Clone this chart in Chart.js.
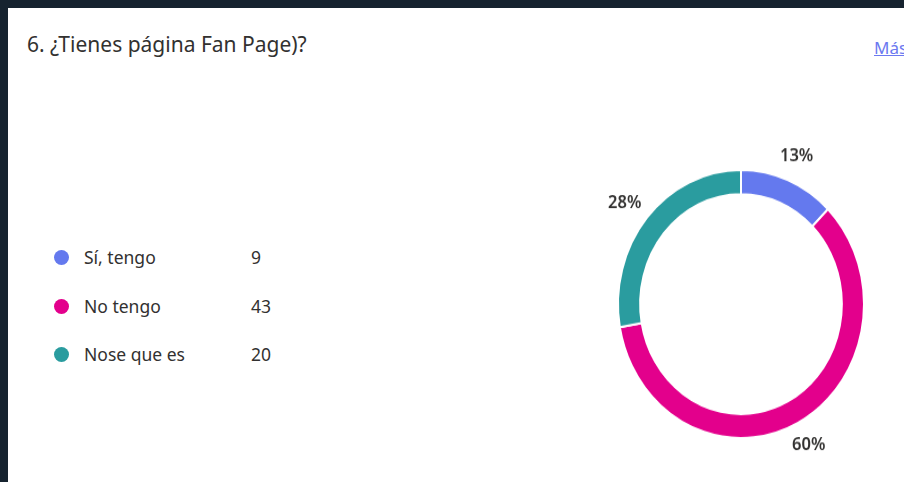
<!DOCTYPE html>
<html>
<head>
<meta charset="utf-8">
<script src="https://cdn.jsdelivr.net/npm/chart.js@4"></script>
<style>
  html, body { margin: 0; padding: 0; }
  body { width: 904px; height: 482px; background: #fff; position: relative; overflow: hidden; font-family: "Noto Sans", sans-serif; }
  .edgeTop { position: absolute; left: 0; top: 0; width: 904px; height: 8px; background: #16232f; }
  .edgeLeft { position: absolute; left: 0; top: 0; width: 8px; height: 482px; background: #16232f; }
  #title { position: absolute; left: 27px; top: 30px; font-size: 21px; color: #323130; white-space: nowrap; }
  #more { position: absolute; left: 874px; top: 36px; font-size: 17px; color: #6b78f0; text-decoration: underline; white-space: nowrap; }
  #legend { position: absolute; left: 54px; top: 245px; }
  .row { position: relative; height: 48.5px; font-size: 17.5px; color: #323130; }
  .dot { position: absolute; left: 0; top: 5px; width: 15px; height: 15px; border-radius: 50%; }
  .lab { position: absolute; left: 30px; top: 0; white-space: nowrap; }
  .num { position: absolute; left: 197px; top: 0; }
  #wrap { position: absolute; left: 591px; top: 154px; width: 300px; height: 300px; transform: scaleY(1.09); transform-origin: 50% 50%; }
</style>
</head>
<body>
<div class="edgeTop"></div>
<div class="edgeLeft"></div>
<div id="title">6. ¿Tienes página Fan Page)?</div>
<div id="more">Más</div>
<div id="legend"></div>
<div id="wrap"><canvas id="pie" width="300" height="300"></canvas></div>
<script>
var answers = ['Sí, tengo', 'No tengo', 'Nose que es'];
var counts = [9, 43, 20];
var colors = ['#6479ee', '#e3008c', '#2a9c9f'];

// legend on the left
var legend = document.getElementById('legend');
answers.forEach(function(a, i) {
  var row = document.createElement('div');
  row.className = 'row';
  row.innerHTML = '<span class="dot" style="background:' + colors[i] + '"></span>' +
    '<span class="lab">' + a + '</span><span class="num">' + counts[i] + '</span>';
  legend.appendChild(row);
});

var total = counts.reduce(function(s, v) { return s + v; }, 0);

// percentage labels outside the ring
var outerLabels = {
  id: 'outerLabels',
  afterDatasetsDraw: function(chart) {
    var ctx = chart.ctx;
    var meta = chart.getDatasetMeta(0);
    ctx.save();
    ctx.font = '600 16.5px "Noto Sans"';
    ctx.fillStyle = '#323130';
    ctx.textAlign = 'center';
    ctx.textBaseline = 'middle';
    meta.data.forEach(function(arc, i) {
      var mid = (arc.startAngle + arc.endAngle) / 2;
      var txt = Math.round(counts[i] / total * 100) + '%';
      var hw = ctx.measureText(txt).width / 2, hh = 8;
      var r = arc.outerRadius + 16;
      var c = Math.cos(mid), s = Math.sin(mid);
      var x = arc.x + c * (r + Math.abs(c) * hw);
      var y = arc.y + s * (r + Math.abs(s) * hh);
      ctx.fillText(txt, x, y);
    });
    ctx.restore();
  }
};

var Cnvs = document.getElementById('pie');
var pieChart = new Chart(Cnvs, {
  type: 'doughnut',
  data: {
    labels: answers,
    datasets: [{
      data: counts,
      backgroundColor: colors,
      borderColor: '#ffffff',
      borderWidth: 2
    }]
  },
  options: {
    responsive: false,
    animation: false,
    cutout: '82%',
    layout: { padding: 26 },
    events: [],
    plugins: {
      legend: { display: false },
      tooltip: { enabled: false }
    }
  },
  plugins: [outerLabels]
});
</script>
</body>
</html>
